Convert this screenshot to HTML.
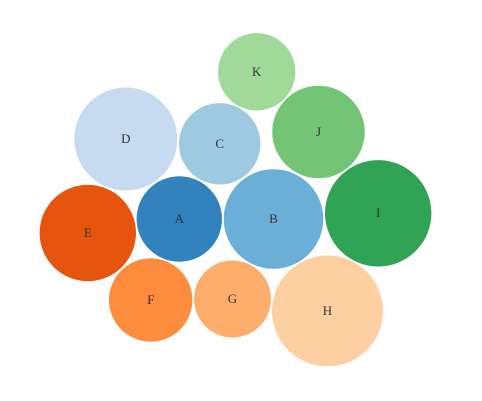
<!DOCTYPE html>
<html lang="en">
<head>
<meta charset="utf-8">
<title>Bubble chart</title>
<style>
  html, body { margin: 0; padding: 0; background: #fff; }
  #wrap { position: relative; width: 482px; height: 401px; overflow: hidden; background: #fff; }
  #chart { display: block; position: absolute; left: 0; top: 0; width: 482px; height: 401px; }
  .bubble-label { position: absolute; width: 40px; height: 16px; line-height: 16px; text-align: center;
    font-family: "Liberation Serif", serif; font-size: 13px; color: #333; }
</style>
</head>
<body>
<div id="wrap">
<svg id="chart" width="482" height="401" viewBox="0 0 482 401" xmlns="http://www.w3.org/2000/svg"></svg>
</div>
<script>
const categories = ["A", "B", "C", "D", "E", "F", "G", "H", "I", "J", "K"];
const sizeValues = [72.9, 99.2, 66.3, 106.1, 92.9, 69.6, 59.3, 123.2, 113.2, 85.4, 59.9];
const layoutX = [-30.85, 16.25, -10.65, -57.6, -76.6, -45.15, -4.25, 43.25, 68.6, 38.75, 7.85];
const layoutY = [-9.25, -9.25, 28.35, 30.75, -16.25, -49.75, -49.25, -55.25, -6.4, 34.25, 64.35];
const palette = ["#3182bd", "#6baed6", "#9ecae1", "#c6dbef", "#e6550d", "#fd8d3c", "#fdae6b", "#fdd0a2", "#31a354", "#74c476", "#a1d99b"];

const SVG_NS = "http://www.w3.org/2000/svg";
const wrap = document.getElementById("wrap");
const svg = document.getElementById("chart");
const xScale = v => 241 + v * 2;
const yScale = v => 200.5 - v * 2;
const rScale = v => 5 * Math.sqrt(v);

categories.forEach((name, i) => {
  const key = name.toLowerCase();

  const circle = document.createElementNS(SVG_NS, "circle");
  circle.setAttribute("cx", xScale(layoutX[i]));
  circle.setAttribute("cy", yScale(layoutY[i]));
  circle.setAttribute("r", rScale(sizeValues[i]));
  circle.setAttribute("fill", palette[i]);
  
  
  svg.appendChild(circle);

  const label = document.createElement("div");
  label.className = "bubble-label";
  label.style.left = (xScale(layoutX[i]) - 20) + "px";
  label.style.top = (yScale(layoutY[i]) - 8) + "px";
  
  
  label.textContent = name;
  wrap.appendChild(label);
});
</script>
</body>
</html>
